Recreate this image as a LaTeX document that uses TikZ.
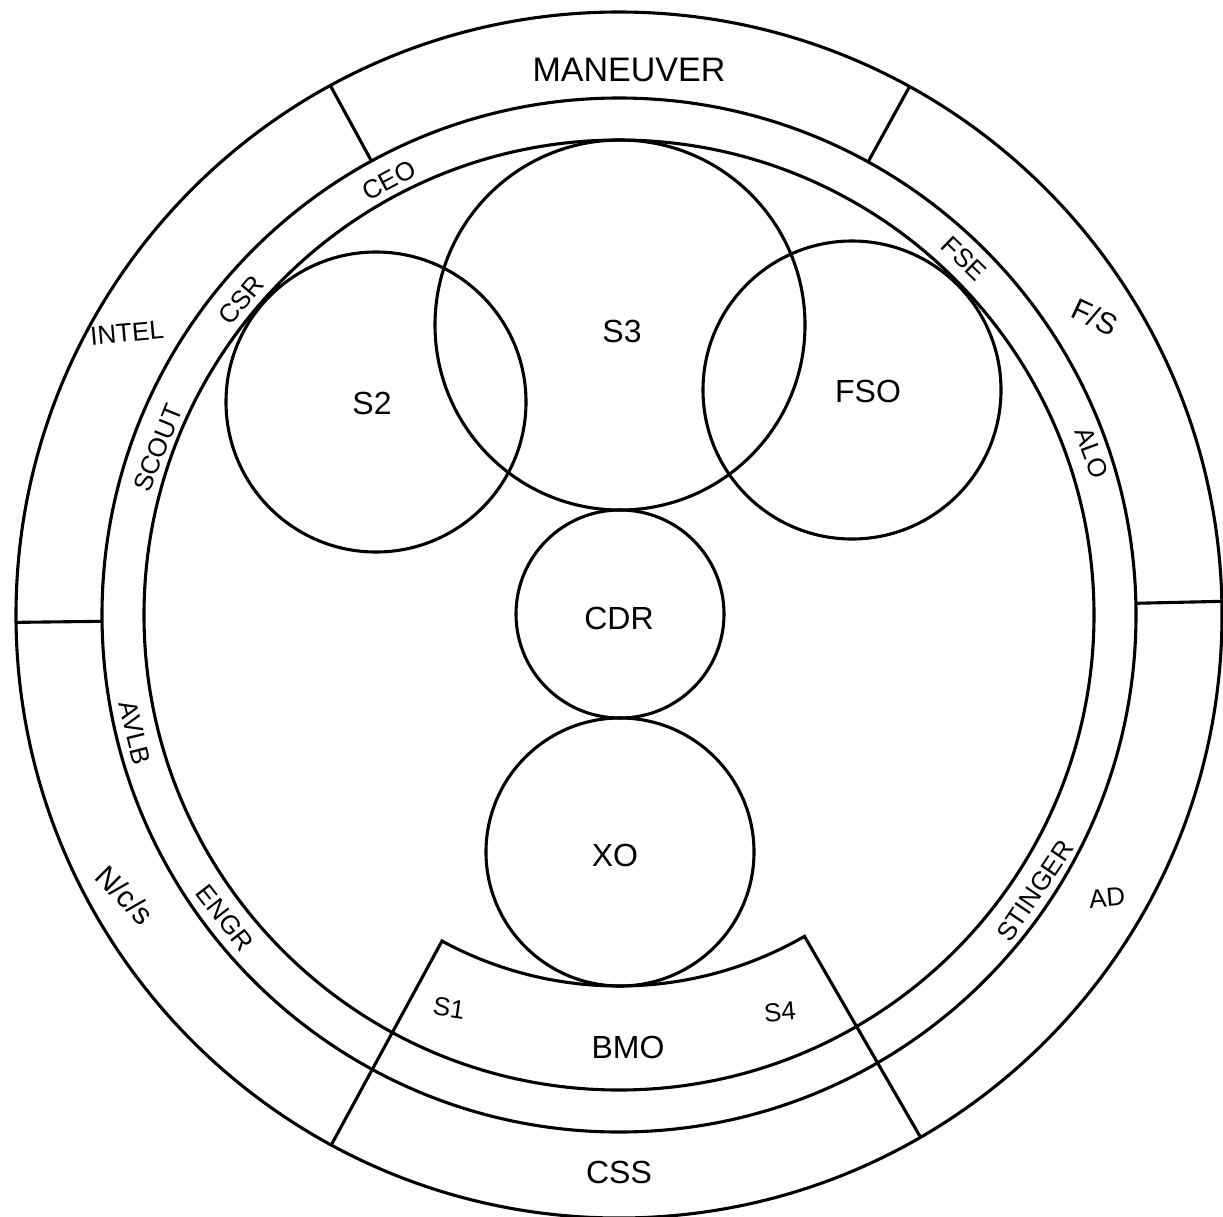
\documentclass[tikz,border=0pt]{standalone}
\usepackage{fontspec}
\setmainfont{Liberation Sans}
\begin{document}
\begin{tikzpicture}[x=1pt,y=-1pt,
  ink/.style={draw=black, line width=3.1pt},
  circ/.style={circle, ink, inner sep=0pt, outer sep=0pt},
  lbl/.style={font=\fontsize{26}{30}\selectfont, inner sep=0pt},
  midlbl/.style={font=\fontsize{30}{34}\selectfont, inner sep=0pt},
  biglbl/.style={font=\fontsize{32}{38}\selectfont, inner sep=0pt},
  titlelbl/.style={font=\fontsize{34}{40}\selectfont, inner sep=0pt}]
\useasboundingbox (0,0) rectangle (1223,1216);
% concentric rings
\coordinate (C) at (619,615);
\begin{scope}[shift={(619,615)}]
  \draw[ink] (0,0) circle[radius=603];
  \draw[ink] (0,0) circle[radius=517];
  \draw[ink] (0,0) circle[radius=475];
  % dividers of the outer band
  \draw[ink] (-118.6:517) -- (-118.6:603);
  \draw[ink] (-61.2:517) -- (-61.2:603);
  \draw[ink] (179.3:517) -- (179.3:603);
  \draw[ink] (-1.3:517) -- (-1.3:603);
  % BMO / CSS block
  \draw[ink, line join=miter] (118.5:603) -- (118.5:371)
     arc[start angle=118.5, end angle=60, radius=371] -- (60:603);
\end{scope}
% inner circles
\node[circ, minimum size=370pt] (s3) at (620,325) {};
\node[circ, minimum size=300pt] (s2) at (376,402) {};
\node[circ, minimum size=298pt] (fso) at (852,390) {};
\node[circ, minimum size=208pt] (cdr) at (620,614) {};
\node[circ, minimum size=268pt] (xo) at (620,852) {};
% labels
\node[titlelbl] (tman) at (629,70) {MANEUVER};
\node[lbl, rotate=28] (tceo) at (389,180) {CEO};
\node[lbl, rotate=50] (tcsr) at (241,300) {CSR};
\node[lbl, rotate=5] (tintel) at (127,333) {INTEL};
\node[lbl, rotate=68] (tscout) at (158,448) {SCOUT};
\node[biglbl] (ts2) at (372,403) {S2};
\node[biglbl] (ts3) at (622,331) {S3};
\node[biglbl] (tfso) at (868,391) {FSO};
\node[lbl, rotate=-44] (tfse) at (964,259) {FSE};
\node[midlbl, rotate=-25] (tfs) at (1095,317) {F/S};
\node[lbl, rotate=-70] (talo) at (1092,453) {ALO};
\node[biglbl] (tcdr) at (619,618) {CDR};
\node[biglbl] (txo) at (615,855) {XO};
\node[lbl, rotate=-76] (tavlb) at (135,733) {AVLB};
\node[midlbl, rotate=-45] (tncs) at (125,895) {N/c/s};
\node[lbl, rotate=-52] (tengr) at (225,918) {ENGR};
\node[lbl, rotate=56] (tsting) at (1035,891) {STINGER};
\node[lbl, rotate=5] (tad) at (1107,898) {AD};
\node[lbl, rotate=-8] (ts1) at (449,1008) {S1};
\node[lbl, rotate=5] (ts4) at (780,1012) {S4};
\node[biglbl] (tbmo) at (628,1047) {BMO};
\node[biglbl] (tcss) at (619,1172) {CSS};
\end{tikzpicture}
\end{document}
